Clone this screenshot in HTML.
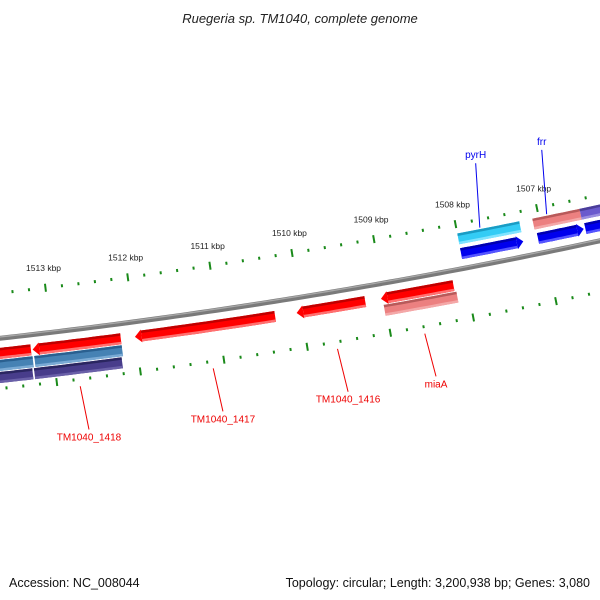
<!DOCTYPE html>
<html><head><meta charset="utf-8"><style>
html,body{margin:0;padding:0;background:#fff}
svg{display:block;font-family:"Liberation Sans","DejaVu Sans",sans-serif}
</style></head><body>
<svg id="c" width="600" height="600" viewBox="0 0 600 600">
<text x="300" y="23" text-anchor="middle" font-size="13" font-style="italic" fill="#222">Ruegeria sp. TM1040, complete genome</text>
<text x="9" y="587" font-size="12.5" fill="#111">Accession: NC_008044</text>
<text x="590" y="587" text-anchor="end" font-size="12.5" fill="#111">Topology: circular; Length: 3,200,938 bp; Genes: 3,080</text>
<g id="ticks"></g><g id="feat"></g><g id="labels"></g>
</svg>
<script>
const tickValues = [1507,1508,1509,1510,1511,1512,1513];
const tickLabels = ["1507 kbp","1508 kbp","1509 kbp","1510 kbp","1511 kbp","1512 kbp","1513 kbp"];
const featStarts = [1508.0,1508.0,1507.08,1506.5,1507.06,1506.48, 1513.72,1513.24,1512.01,1510.06,1509.04,1509.02, 1513.74,1513.23, 1513.76,1513.25];
const featEnds   = [1507.24,1507.24,1506.5,1505.9,1506.5,1505.9, 1513.26,1512.18,1510.32,1509.23,1508.16,1508.14, 1513.25,1512.18, 1513.27,1512.2];
const featRows   = [15,30,15,15,30,30, 60,60,60,60,60,72, 72,72, 84,84];
const featHeads  = ["N","R","N","N","R","R", "N","L","L","L","L","N", "N","N", "N","N"];
const featKinds  = ["cyan","blue","pink","purple","blue","blue", "red","red","red","red","red","pink", "steel","steel","dpurple","dpurple"];
const geneNames = ["pyrH","frr","TM1040_1418","TM1040_1417","TM1040_1416","miaA"];
const genePos   = [1507.72,1506.9,1512.73,1511.14,1509.65,1508.6];
const geneSide  = ["up","up","down","down","down","down"];

const NS="http://www.w3.org/2000/svg";
const R0=6000, k=83/6000, a0=Math.asin(1000/6000)*0.96;
const cx=292-R0*Math.sin(a0), cy=253-R0*Math.cos(a0);
function pt(p,r){const t=a0+(1510-p)*k;return [cx+(R0+r)*Math.sin(t), cy+(R0+r)*Math.cos(t)];}
function mk(tag,attrs,parent){const e=document.createElementNS(NS,tag);for(const a in attrs)e.setAttribute(a,attrs[a]);parent.appendChild(e);return e;}
function band(p1,p2,r1,r2){let pts=[];const n=12;for(let i=0;i<=n;i++)pts.push(pt(p1+(p2-p1)*i/n,r1));for(let i=n;i>=0;i--)pts.push(pt(p1+(p2-p1)*i/n,r2));return pts.map(q=>q[0].toFixed(1)+","+q[1].toFixed(1)).join(" ");}
const ticksG=document.getElementById('ticks');
let bb=[];for(let p=1505;p<=1514.5;p+=0.1)bb.push(pt(p,45));
let bl=mk('polyline',{points:bb.map(q=>q.join(',')).join(' '),fill:'none',stroke:'#7a7a7a','stroke-width':5},ticksG);

let bl2=mk('polyline',{points:bb.map(q=>[q[0],q[1]-1.3].join(',')).join(' '),fill:'none',stroke:'#a8a8a8','stroke-width':1.3},ticksG);

for(const ring of [0,95]){
 for(let i=0;i<=47;i++){const p=1505.2+i*0.2;const major=Math.abs(p-Math.round(p))<0.01;
  const a=pt(p,ring-(major?4:1.5)),b=pt(p,ring+(major?4:1.5));
  const l=mk('line',{x1:a[0],y1:a[1],x2:b[0],y2:b[1],stroke:'#1a8a1a','stroke-width':2},ticksG);
  }
}
tickValues.forEach((v,i)=>{const q=pt(v,-16);const t=mk('text',{x:q[0],y:q[1]-1,'text-anchor':'middle','font-size':8.5,fill:'#222'},ticksG);t.textContent=tickLabels[i];
 });
const colors={cyan:['#1a9cc4','#33ccf5','#80e4ff'],blue:['#0000b0','#0000ee','#5555ff'],pink:['#b85a5a','#ec8080','#f4a8a8'],purple:['#4a3d99','#6a5acd','#9a8ee0'],dpurple:['#2a2660','#483d8b','#6a60a8'],red:['#c00000','#ff0000','#ff7070'],steel:['#2a6090','#4682b4','#7aaad4']};
const featG=document.getElementById('feat');
for(let i=0;i<featStarts.length;i++){
 const c=colors[featKinds[i]],r=featRows[i],h=5.5,hl=0.08;
 let s=featStarts[i],e=featEnds[i];
 const g=mk('g',{},featG);
 let bs=s,be=e;
 if(featHeads[i]==='L'){bs=s-hl;const t=pt(s,r),a=pt(bs,r-h-1),b=pt(bs,r+h+1);mk('polygon',{points:[t,a,b].map(q=>q.join(',')).join(' '),fill:c[1]},g);}
 if(featHeads[i]==='R'){be=e+hl;const t=pt(e,r),a=pt(be,r-h-1),b=pt(be,r+h+1);mk('polygon',{points:[t,a,b].map(q=>q.join(',')).join(' '),fill:c[1]},g);}
 mk('polygon',{points:band(bs,be,r-h,r+h),fill:c[1]},g);
 mk('polygon',{points:band(bs,be,r-h,r-h+2.5),fill:c[0]},g);
 mk('polygon',{points:band(bs,be,r+h-2.5,r+h),fill:c[2]},g);
}
const labG=document.getElementById('labels');
geneNames.forEach((n,i)=>{const up=geneSide[i]==='up';const col=up?'#0000ee':'#ee0000';
 const a=up?pt(genePos[i],8):pt(genePos[i],102),b=up?pt(genePos[i]-0.1,-56):pt(genePos[i]-0.04,146);
 const l=mk('line',{x1:a[0],y1:a[1],x2:b[0],y2:b[1],stroke:col,'stroke-width':1},labG);
 
 const t=mk('text',{x:b[0],y:up?b[1]-5:b[1]+11,'text-anchor':'middle','font-size':10,fill:col},labG);t.textContent=n;
 });
</script>
</body></html>
